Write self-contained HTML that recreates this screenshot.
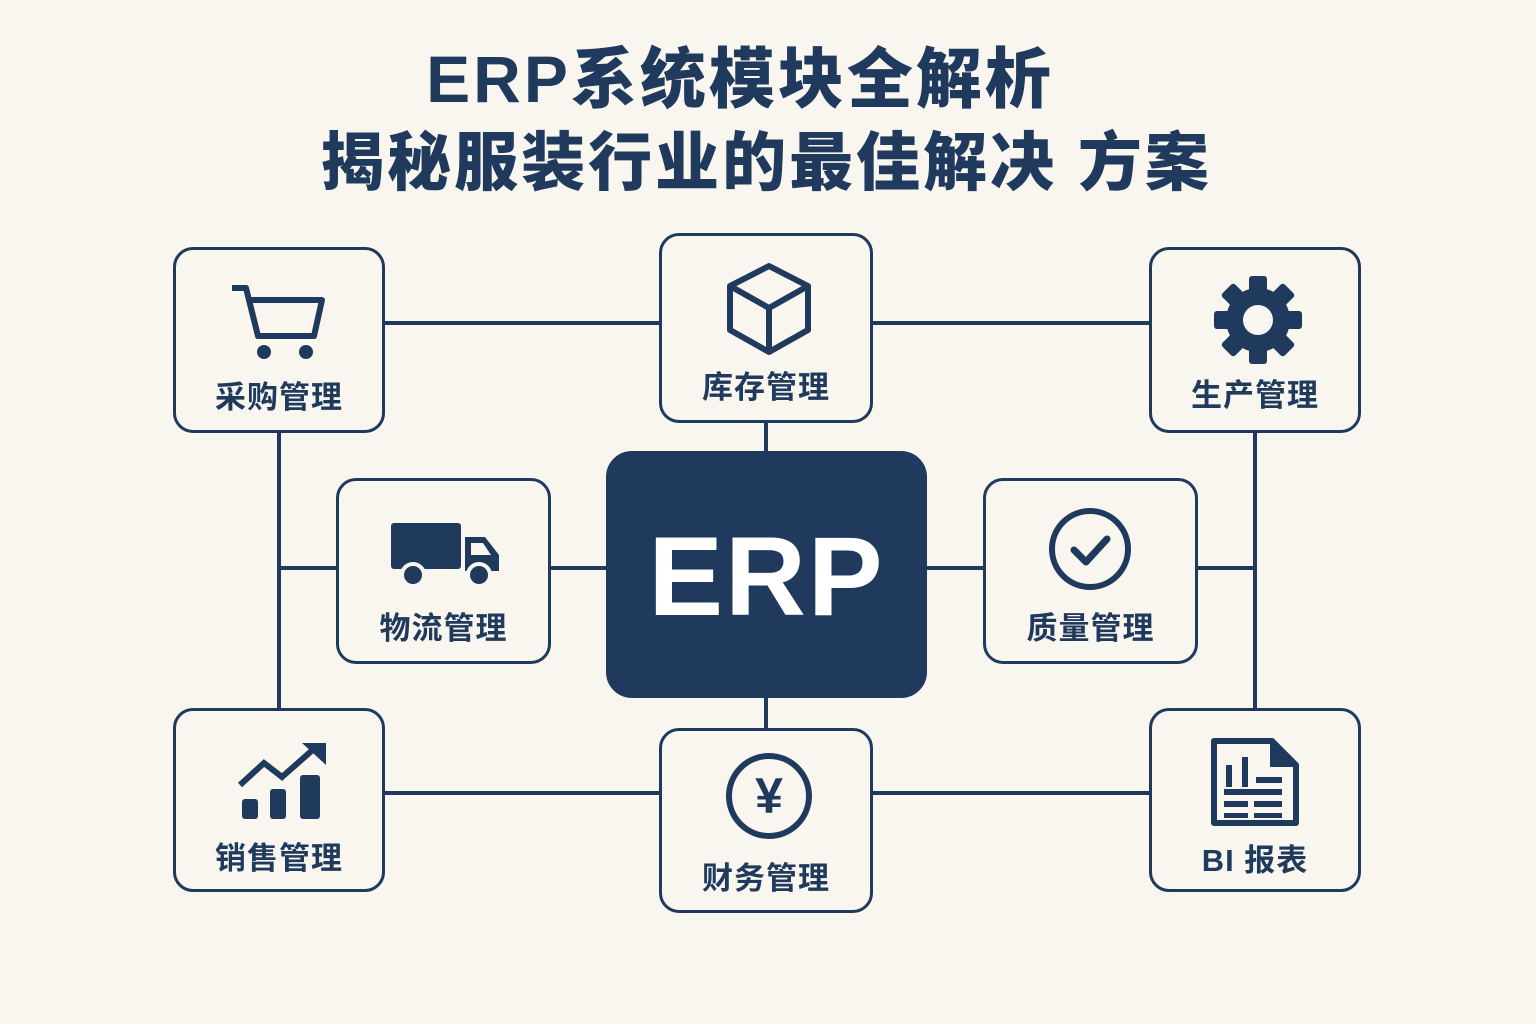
<!DOCTYPE html>
<html><head><meta charset="utf-8"><style>
body{margin:0;width:1536px;height:1024px;background:#f9f6ef;position:relative;overflow:hidden;font-family:"Liberation Sans","Noto Sans CJK SC",sans-serif;color:#1f3a5c}
.t{position:absolute;left:0;width:1536px;text-align:center;font-weight:900;font-size:66px;letter-spacing:3px}
.b{position:absolute;box-sizing:border-box;border:3.5px solid #1f3a5c;border-radius:20px;background:#f9f6ef}
.l{position:absolute;left:0;right:0;text-align:center;font-weight:700;font-size:31px;letter-spacing:1px}
.ln{position:absolute;background:#1f3a5c}
svg{position:absolute}
</style></head><body>
<div class="t" style="top:26px;left:-28px">ERP系统模块全解析</div>
<div class="t" style="top:112px;left:-2px;font-size:64px;letter-spacing:3px">揭秘服装行业的最佳解决 方案</div>

<div class="ln" style="left:385px;top:321px;width:274px;height:4px"></div>
<div class="ln" style="left:873px;top:321px;width:276px;height:4px"></div>
<div class="ln" style="left:385px;top:791px;width:274px;height:4px"></div>
<div class="ln" style="left:873px;top:791px;width:276px;height:4px"></div>
<div class="ln" style="left:277px;top:433px;width:4px;height:275px"></div>
<div class="ln" style="left:1253px;top:433px;width:4px;height:275px"></div>
<div class="ln" style="left:279px;top:566px;width:57px;height:4px"></div>
<div class="ln" style="left:551px;top:566px;width:55px;height:4px"></div>
<div class="ln" style="left:927px;top:566px;width:56px;height:4px"></div>
<div class="ln" style="left:1198px;top:566px;width:57px;height:4px"></div>
<div class="ln" style="left:764px;top:423px;width:4px;height:28px"></div>
<div class="ln" style="left:764px;top:698px;width:4px;height:30px"></div>

<div class="b" style="left:173px;top:247px;width:212px;height:186px"><div class="l" style="top:122px">采购管理</div>
<svg style="left:52px;top:30px" width="100" height="84" viewBox="0 0 100 84"><path d="M4 8H18L30 56H86L94 20H22" fill="none" stroke="#1f3a5c" stroke-width="6" stroke-linejoin="round"/><circle cx="36" cy="72" r="7" fill="#1f3a5c"/><circle cx="78" cy="72" r="7" fill="#1f3a5c"/></svg></div>

<div class="b" style="left:659px;top:233px;width:214px;height:190px"><div class="l" style="top:126px">库存管理</div>
<svg style="left:62px;top:26px" width="90" height="94" viewBox="0 0 90 94"><path d="M45 4L84 24V68L45 90L6 68V24Z M6 24L45 46L84 24 M45 46V90" fill="none" stroke="#1f3a5c" stroke-width="6" stroke-linejoin="round"/></svg></div>

<div class="b" style="left:1149px;top:247px;width:212px;height:186px"><div class="l" style="top:120px">生产管理</div>
<svg style="left:60px;top:24px" width="92" height="92" viewBox="-46 -46 92 92"><g fill="#1f3a5c"><circle r="32"/><g id="tt"><rect x="-9" y="-44" width="18" height="20" rx="3"/></g><use href="#tt" transform="rotate(45)"/><use href="#tt" transform="rotate(90)"/><use href="#tt" transform="rotate(135)"/><use href="#tt" transform="rotate(180)"/><use href="#tt" transform="rotate(225)"/><use href="#tt" transform="rotate(270)"/><use href="#tt" transform="rotate(315)"/></g><circle r="15" fill="#f9f6ef"/></svg></div>

<div class="b" style="left:336px;top:478px;width:215px;height:186px"><div class="l" style="top:122px">物流管理</div>
<svg style="left:50px;top:40px" width="114" height="66" viewBox="0 0 114 66"><rect x="2" y="2" width="70" height="46" rx="3" fill="#1f3a5c"/><path d="M76 16H96L110 34V50H76Z" fill="#1f3a5c"/><path d="M82 22H94L102 34H82Z" fill="#f9f6ef"/><circle cx="24" cy="54" r="11" fill="#1f3a5c" stroke="#f9f6ef" stroke-width="4"/><circle cx="90" cy="54" r="11" fill="#1f3a5c" stroke="#f9f6ef" stroke-width="4"/></svg></div>

<div class="b" style="left:606px;top:451px;width:321px;height:247px;background:#1f3a5c;border-radius:26px"><div style="position:absolute;left:0;right:0;top:58px;text-align:center;color:#fff;font-weight:700;font-size:112px;letter-spacing:2px">ERP</div></div>

<div class="b" style="left:983px;top:478px;width:215px;height:186px"><div class="l" style="top:122px">质量管理</div>
<svg style="left:60px;top:24px" width="88" height="88" viewBox="0 0 88 88"><circle cx="44" cy="44" r="38" fill="none" stroke="#1f3a5c" stroke-width="6"/><path d="M28 45L40 57L61 34" fill="none" stroke="#1f3a5c" stroke-width="7" stroke-linecap="round" stroke-linejoin="round"/></svg></div>

<div class="b" style="left:173px;top:708px;width:212px;height:184px"><div class="l" style="top:122px">销售管理</div>
<svg style="left:60px;top:28px" width="96" height="84" viewBox="0 0 96 84"><rect x="6" y="60" width="16" height="20" rx="3" fill="#1f3a5c"/><rect x="34" y="50" width="16" height="30" rx="3" fill="#1f3a5c"/><rect x="64" y="36" width="20" height="44" rx="3" fill="#1f3a5c"/><path d="M4 46L28 24L46 38L80 8" fill="none" stroke="#1f3a5c" stroke-width="6"/><path d="M66 4H90V26Z" fill="#1f3a5c"/></svg></div>

<div class="b" style="left:659px;top:728px;width:214px;height:185px"><div class="l" style="top:122px">财务管理</div>
<svg style="left:62px;top:20px" width="90" height="90" viewBox="0 0 90 90"><circle cx="45" cy="45" r="40" fill="none" stroke="#1f3a5c" stroke-width="6"/><text x="45" y="62" text-anchor="middle" font-family="Liberation Sans" font-weight="700" font-size="50" fill="#1f3a5c">¥</text></svg></div>

<div class="b" style="left:1149px;top:708px;width:212px;height:184px"><div class="l" style="top:124px">BI 报表</div>
<svg style="left:58px;top:26px" width="92" height="90" viewBox="0 0 92 90"><path d="M4 4H62L86 28V86H4Z" fill="none" stroke="#1f3a5c" stroke-width="6" stroke-linejoin="round"/><path d="M60 4V30H86Z" fill="#1f3a5c"/><g fill="#1f3a5c"><rect x="16" y="28" width="6" height="22"/><rect x="32" y="20" width="6" height="30"/><rect x="14" y="52" width="58" height="6"/><rect x="14" y="64" width="24" height="6"/><rect x="44" y="64" width="28" height="6"/><rect x="14" y="76" width="24" height="5"/><rect x="44" y="76" width="28" height="5"/><rect x="46" y="40" width="26" height="6"/></g></svg></div>
</body></html>
